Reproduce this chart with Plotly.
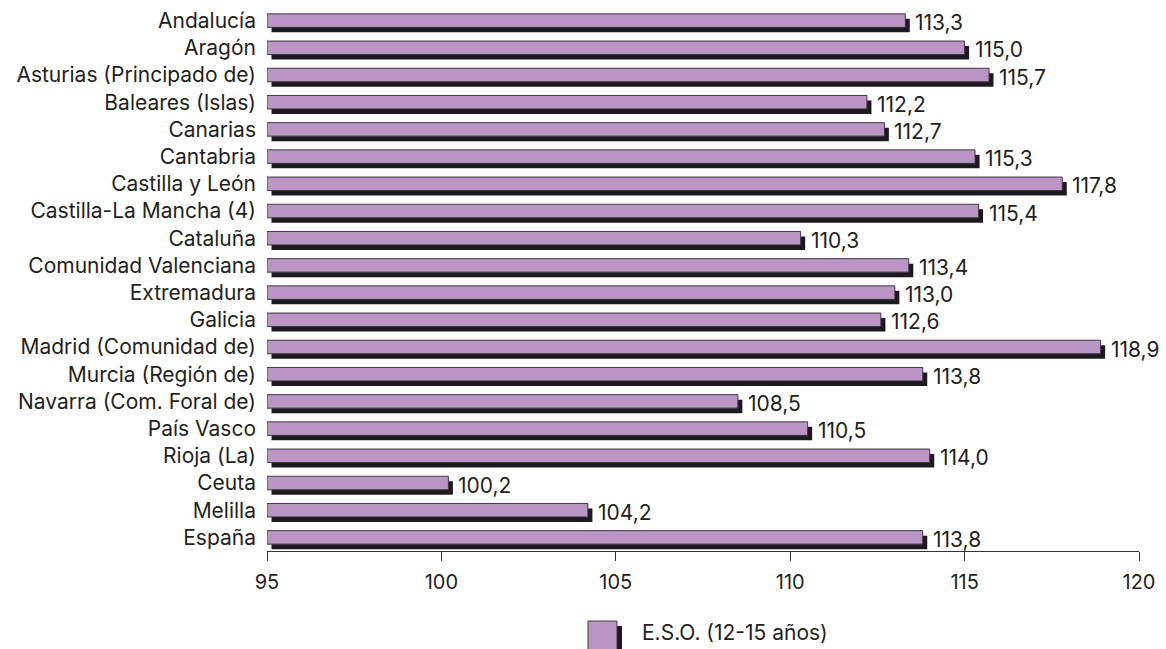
import plotly.graph_objects as go

categories = [
    "Andalucía", "Aragón", "Asturias (Principado de)", "Baleares (Islas)", "Canarias",
    "Cantabria", "Castilla y León", "Castilla-La Mancha (4)", "Cataluña",
    "Comunidad Valenciana", "Extremadura", "Galicia", "Madrid (Comunidad de)",
    "Murcia (Región de)", "Navarra (Com. Foral de)", "País Vasco", "Rioja (La)",
    "Ceuta", "Melilla", "España",
]
values = [113.3, 115.0, 115.7, 112.2, 112.7, 115.3, 117.8, 115.4, 110.3, 113.4,
          113.0, 112.6, 118.9, 113.8, 108.5, 110.5, 114.0, 100.2, 104.2, 113.8]
labels = [f"{v:.1f}".replace(".", ",") for v in values]
series_name = "E.S.O. (12-15 años)"
x_ticks = [95, 100, 105, 110, 115, 120]

X_MIN, X_MAX = 95, 120
W, H = 1166, 649
L, R, T, B = 267, 27, 7, 98
PURPLE = "#bb96c5"
SHADOW = "#1c1a1e"
EDGE = "#3c3a3e"
TXT = "#231f20"
FONT = "Inter, Liberation Sans, Arial, sans-serif"
FS = 21

plot_w = W - L - R
plot_h = H - T - B
px_per_unit = plot_w / (X_MAX - X_MIN)
dx = 4.5 / px_per_unit
n = len(categories)
cat_px = plot_h / n
bw = 13.5 / cat_px
dy = 5.0 / cat_px

lengths = [v - X_MIN for v in values]

fig = go.Figure()
fig.add_trace(go.Bar(
    y=categories, x=lengths, base=[X_MIN + dx] * n, orientation="h",
    width=bw, offset=-bw / 2 + dy, marker=dict(color=SHADOW, line=dict(width=0)),
    showlegend=False, hoverinfo="skip",
))
fig.add_trace(go.Bar(
    y=categories, x=lengths, base=[X_MIN] * n, orientation="h",
    width=bw, offset=-bw / 2, name=series_name,
    marker=dict(color=PURPLE, line=dict(color=EDGE, width=1)),
    showlegend=False,
))

for c, v, t in zip(categories, values, labels):
    fig.add_annotation(x=v, y=c, text=t, showarrow=False, xanchor="left",
                       xshift=8, yshift=-2, font=dict(size=FS, color=TXT, family=FONT))

# manual legend
def px2x(p):
    return (p - L) / plot_w

def px2y(p):
    return (H - B - p) / plot_h

fig.add_shape(type="rect", xref="paper", yref="paper",
              x0=px2x(593), x1=px2x(622), y0=px2y(626), y1=px2y(670),
              fillcolor=SHADOW, line=dict(width=0))
fig.add_shape(type="rect", xref="paper", yref="paper",
              x0=px2x(588), x1=px2x(617), y0=px2y(621), y1=px2y(665),
              fillcolor=PURPLE, line=dict(color=EDGE, width=1))
fig.add_annotation(xref="paper", yref="paper", x=px2x(640), y=px2y(632),
                   text=series_name, showarrow=False, xanchor="left", yanchor="middle",
                   font=dict(size=FS, color=TXT, family=FONT))

fig.update_layout(
    width=W, height=H, barmode="overlay",
    margin=dict(l=L, r=R, t=T, b=B),
    paper_bgcolor="white", plot_bgcolor="white",
    font=dict(family=FONT, size=FS, color=TXT),
    showlegend=False,
)
fig.update_xaxes(range=[X_MIN, X_MAX], tickvals=x_ticks, ticktext=[str(t) for t in x_ticks],
                 showgrid=False, zeroline=False, showline=True, linecolor="#333333",
                 linewidth=1, ticks="outside", ticklen=9, tickcolor="#333333",
                 tickfont=dict(size=20, color=TXT), ticklabelstandoff=4)
fig.update_yaxes(type="category", categoryorder="array", categoryarray=categories,
                 range=[n - 0.5, -0.5], showgrid=False, zeroline=False, showline=False,
                 ticks="", tickfont=dict(size=FS, color=TXT), ticklabelstandoff=10)

fig.write_html("out.html", config={"displayModeBar": False},
               post_script="document.body.style.margin='0';")
